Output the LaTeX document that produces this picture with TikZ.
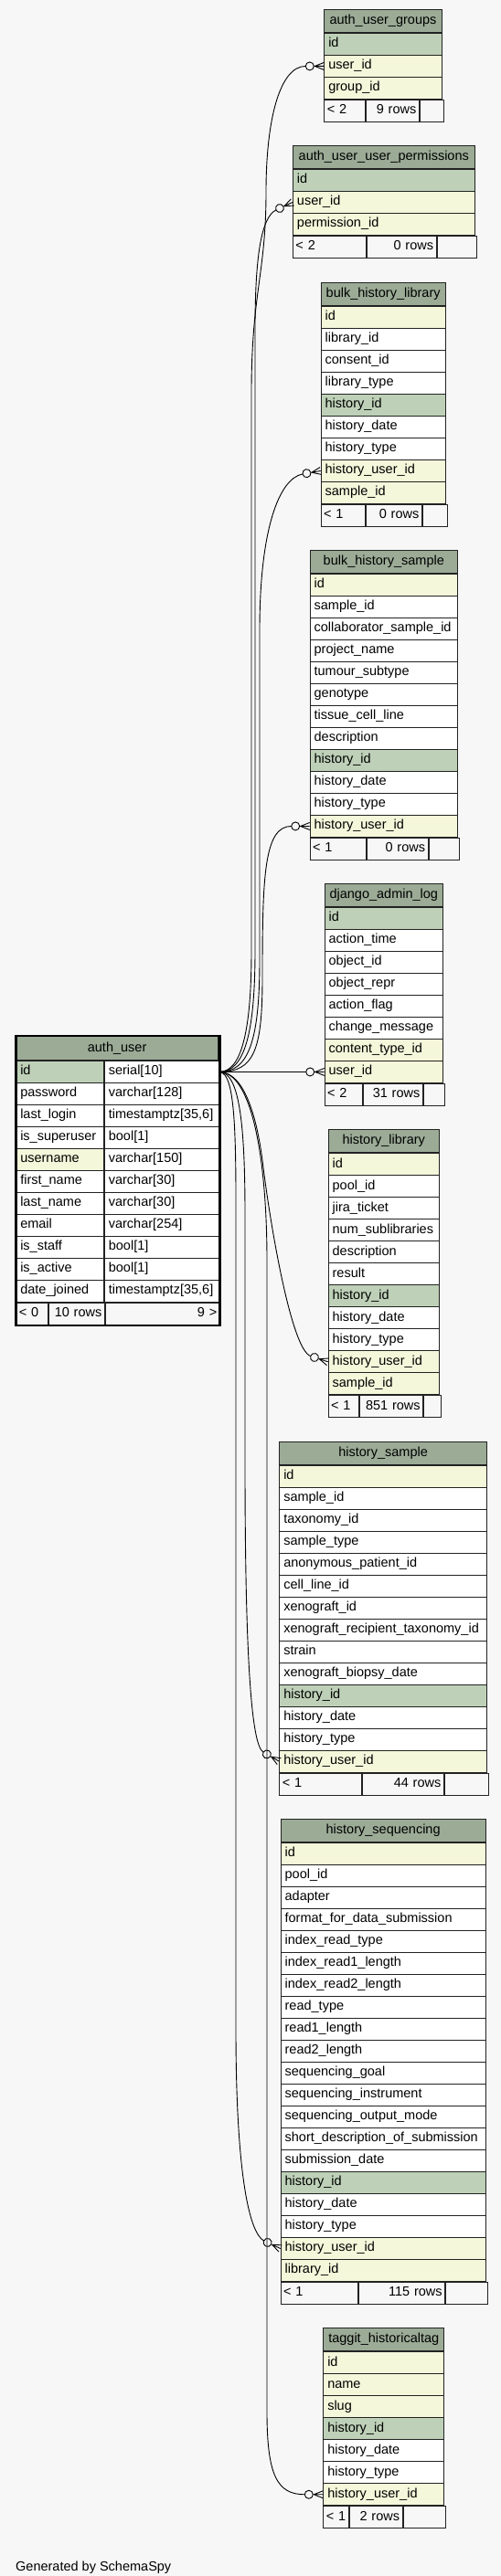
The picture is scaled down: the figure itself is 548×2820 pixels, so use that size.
\documentclass[tikz,border=0pt]{standalone}
\usepackage{fontspec}
\setmainfont{Liberation Sans}

\definecolor{bgc}{HTML}{F7F7F7}
\definecolor{headc}{HTML}{9BAB96}
\definecolor{pkc}{HTML}{BED1B8}
\definecolor{fkc}{HTML}{F4F7DA}
\definecolor{rowc}{HTML}{FFFFFF}
\definecolor{linec}{HTML}{222222}

\newcommand\tblfont{\fontsize{14.5}{16}\selectfont}

\tikzset{
    tblcell/.style={draw=linec, line width=0.9pt, minimum height=24pt, inner xsep=4.5pt, inner ysep=0pt,
        text height=10.5pt, text depth=3.5pt, align=left, font=\tblfont},
    tblhead/.style={tblcell, fill=headc, minimum height=25pt, align=center},
    tblfoot/.style={tblcell, fill=bgc, inner xsep=3pt},
    fkline/.style={draw=black, line width=0.9pt},
}

% table: name, left, top of first row, width, title, rows
\newcommand\dbtable[6]{%
    \node[tblhead, text width={(#4-9)*1pt}, anchor=south west] (#1) at (#2,#3) {#5};
    \foreach \fn/\fc [count=\i] in {#6}{
        \node[tblcell, fill=\fc, text width={(#4-9)*1pt}, anchor=north west] (#1-\i) at (#2,{#3+(\i-1)*24}) {\fn};
        \coordinate (#1-end) at (#1-\i.south west);
    }}

% footer: name, width, first divider, second divider, left text, middle text
\newcommand\dbfoot[6]{%
    \node[tblfoot, text width={(#3-6)*1pt}, anchor=north west] (#1-fa) at (#1-end) {#5};
    \node[tblfoot, text width={(#4-#3-6)*1pt}, align=right, anchor=north west] (#1-fb) at (#1-fa.north east) {#6};
    \node[tblfoot, text width={(#2-#4-6)*1pt}, anchor=north west] (#1-fc) at (#1-fb.north east) {};
}

% many end: row node, angle, name of the wire end
\newcommand\fkend[3]{%
    \begin{scope}[shift={(#1.west)}, rotate=#2]
        \coordinate (#3) at (-20,0);
        \draw[fkline] (-10,0) -- (0,0) (0,4) -- (-10,0) -- (0,-4);
        \draw[fkline, fill=bgc] (-15.5,0) circle (4.5);
    \end{scope}}

\begin{document}
\begin{tikzpicture}[x=1pt, y=-1pt]
    \fill[bgc] (0,0) rectangle (548,2820);

    % auth_user
    \node[tblhead, text width={(220.7-9)*1pt}, minimum height=26pt, anchor=south west] (au) at (17.3,1161) {auth\_user};
    \foreach \fn/\ty/\fc [count=\i] in {id/serial[10]/pkc, password/varchar[128]/rowc,
        last\_login/{timestamptz[35,6]}/rowc, is\_superuser/bool[1]/rowc, username/varchar[150]/fkc,
        first\_name/varchar[30]/rowc, last\_name/varchar[30]/rowc, email/varchar[254]/rowc,
        is\_staff/bool[1]/rowc, is\_active/bool[1]/rowc, date\_joined/{timestamptz[35,6]}/rowc}{
        \node[tblcell, fill=\fc, text width={(95.7-9)*1pt}, anchor=north west] (au-\i) at (17.3,{1161+(\i-1)*24}) {\fn};
        \node[tblcell, fill=rowc, text width={(125-9)*1pt}, anchor=north west] (au-t\i) at (au-\i.north east) {\ty};
    }
    \node[tblfoot, text width={(34.7-6)*1pt}, anchor=north west] (au-fa) at (au-11.south west) {<~0};
    \node[tblfoot, text width={(61-6)*1pt}, align=right, anchor=north west] (au-fb) at (au-fa.north east) {10 rows};
    \node[tblfoot, text width={(125-6)*1pt}, align=right, anchor=north west] (au-fc) at (au-fb.north east) {9 >};
    \draw[line width=2.5pt] (au.north west) rectangle (au-fc.south east);

    \dbtable{aug}{354.3}{36}{128.4}{auth\_user\_groups}{id/pkc, user\_id/fkc, group\_id/fkc}
    \dbfoot{aug}{128.4}{44.4}{102.7}{<~2}{9 rows}

    \dbtable{auup}{320}{185}{198.7}{auth\_user\_user\_permissions}{id/pkc, user\_id/fkc, permission\_id/fkc}
    \dbfoot{auup}{198.7}{79.7}{155.7}{<~2}{0 rows}

    \dbtable{bhl}{350.7}{335}{136}{bulk\_history\_library}{id/fkc, library\_id/rowc, consent\_id/rowc,
        library\_type/rowc, history\_id/pkc, history\_date/rowc, history\_type/rowc, history\_user\_id/fkc, sample\_id/fkc}
    \dbfoot{bhl}{136}{48.3}{109.3}{<~1}{0 rows}

    \dbtable{bhs}{338.7}{628}{161.3}{bulk\_history\_sample}{id/fkc, sample\_id/rowc, collaborator\_sample\_id/rowc,
        project\_name/rowc, tumour\_subtype/rowc, genotype/rowc, tissue\_cell\_line/rowc, description/rowc,
        history\_id/pkc, history\_date/rowc, history\_type/rowc, history\_user\_id/fkc}
    \dbfoot{bhs}{161.3}{61.3}{128}{<~1}{0 rows}

    \dbtable{dal}{354.7}{993}{129.3}{django\_admin\_log}{id/pkc, action\_time/rowc, object\_id/rowc,
        object\_repr/rowc, action\_flag/rowc, change\_message/rowc, content\_type\_id/fkc, user\_id/fkc}
    \dbfoot{dal}{129.3}{41}{106.3}{<~2}{31 rows}

    \dbtable{hl}{358.7}{1262.3}{121.3}{history\_library}{id/fkc, pool\_id/rowc, jira\_ticket/rowc,
        num\_sublibraries/rowc, description/rowc, result/rowc, history\_id/pkc, history\_date/rowc,
        history\_type/rowc, history\_user\_id/fkc, sample\_id/fkc}
    \dbfoot{hl}{121.3}{33.3}{102.6}{<~1}{851 rows}

    \dbtable{hs}{305.3}{1603.7}{226.7}{history\_sample}{id/fkc, sample\_id/rowc, taxonomy\_id/rowc,
        sample\_type/rowc, anonymous\_patient\_id/rowc, cell\_line\_id/rowc, xenograft\_id/rowc,
        xenograft\_recipient\_taxonomy\_id/rowc, strain/rowc, xenograft\_biopsy\_date/rowc, history\_id/pkc,
        history\_date/rowc, history\_type/rowc, history\_user\_id/fkc}
    \dbfoot{hs}{226.7}{89.4}{178.7}{<~1}{44 rows}

    \dbtable{hseq}{306.7}{2017}{224}{history\_sequencing}{id/fkc, pool\_id/rowc, adapter/rowc,
        format\_for\_data\_submission/rowc, index\_read\_type/rowc, index\_read1\_length/rowc,
        index\_read2\_length/rowc, read\_type/rowc, read1\_length/rowc, read2\_length/rowc,
        sequencing\_goal/rowc, sequencing\_instrument/rowc, sequencing\_output\_mode/rowc,
        short\_description\_of\_submission/rowc, submission\_date/rowc, history\_id/pkc, history\_date/rowc,
        history\_type/rowc, history\_user\_id/fkc, library\_id/fkc}
    \dbfoot{hseq}{224}{84.3}{178.6}{<~1}{115 rows}

    \dbtable{tag}{353.3}{2574.3}{132}{taggit\_historicaltag}{id/fkc, name/fkc, slug/fkc, history\_id/pkc,
        history\_date/rowc, history\_type/rowc, history\_user\_id/fkc}
    \dbfoot{tag}{132}{27.7}{85.4}{<~1}{2 rows}

    % relation ends
    \fkend{aug-2}{0}{aug-w}
    \fkend{auup-2}{25}{auup-w}
    \fkend{bhl-8}{10}{bhl-w}
    \fkend{bhs-12}{0}{bhs-w}
    \fkend{dal-8}{0}{dal-w}
    \fkend{hl-10}{-18}{hl-w}
    \fkend{hs-14}{-30}{hs-w}
    \fkend{hseq-19}{-25}{hseq-w}
    \fkend{tag-7}{0}{tag-w}

    % connectors from auth_user.id
    \coordinate (src) at (au-t1.east);
    \draw[fkline] (src) .. controls +(24,0) and +(0,90) .. (275,1040) -- (275,430)
        .. controls +(0,-110) and +(0,90) .. (291,210) .. controls +(0,-80) and +(-28,0) .. (aug-w);
    \draw[fkline] (src) .. controls +(28,0) and +(0,90) .. (279,1040) -- (279,360)
        .. controls +(0,-80) and +(-16,8) .. (auup-w);
    \draw[fkline] (src) .. controls +(32,0) and +(0,90) .. (284,1050) -- (284,690)
        .. controls +(0,-110) and +(-26,5) .. (bhl-w);
    \draw[fkline] (src) .. controls +(38,0) and +(0,80) .. (287,1070)
        .. controls +(0,-110) and +(-30,0) .. (bhs-w);
    \draw[fkline] (src) -- (dal-w);
    \draw[fkline] (src) .. controls +(28,0) and +(-6,-45) .. (287,1270)
        .. controls +(7,60) and +(-22,-8) .. (hl-w);
    \draw[fkline] (src) .. controls +(22,0) and +(0,-100) .. (268,1330) -- (268,1600)
        .. controls +(0,200) and +(-14,-8) .. (hs-w);
    \draw[fkline] (src) .. controls +(20,0) and +(0,-120) .. (258,1380) -- (258,2220)
        .. controls +(0,160) and +(-16,-9) .. (hseq-w);
    \draw[fkline] (src) .. controls +(36,0) and +(0,-110) .. (292,1380) -- (292,2640)
        .. controls +(0,70) and +(-30,0) .. (tag-w);

    \node[anchor=base west, inner sep=0pt, font=\tblfont] (gen) at (17,2814) {Generated by SchemaSpy};
\end{tikzpicture}
\end{document}
